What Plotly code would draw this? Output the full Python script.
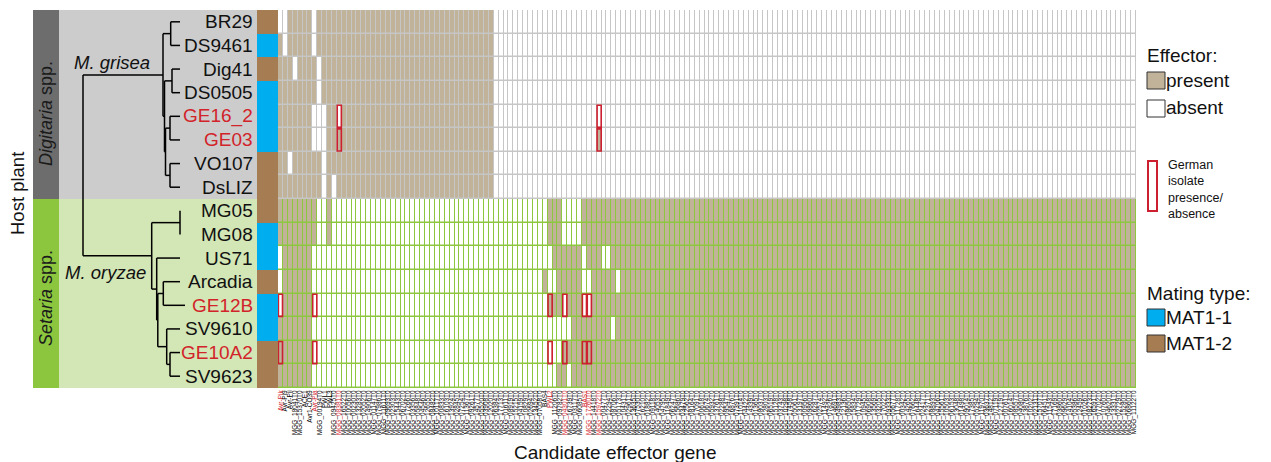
import plotly.graph_objects as go

W, H = 1271, 462


def px(x):
    return x / W


def py(y):
    return 1 - y / H


FONT = "Liberation Sans, Arial, sans-serif"
TAN = "#c0b39a"
GRID_GRAY = "#c6c6c6"
GRID_GREEN = "#8dc63f"
BLUE = "#00aeef"
BROWN = "#a67c52"
RED = "#d2232a"

# ---------------- data ----------------
isolates = ["BR29", "DS9461", "Dig41", "DS0505", "GE16_2", "GE03", "VO107", "DsLIZ",
            "MG05", "MG08", "US71", "Arcadia", "GE12B", "SV9610", "GE10A2", "SV9623"]
german_isolates = ["GE16_2", "GE03", "GE12B", "GE10A2"]
host_groups = [("Digitaria", 0, 7), ("Setaria", 8, 15)]
mating = ["MAT1-2", "MAT1-1", "MAT1-2", "MAT1-1", "MAT1-1", "MAT1-1", "MAT1-2", "MAT1-2",
          "MAT1-2", "MAT1-1", "MAT1-1", "MAT1-2", "MAT1-1", "MAT1-1", "MAT1-2", "MAT1-2"]

n_genes = 175
gene_tokens = """
Avr-Pik Avr-Pi9 Avr-Pii 18041 15370 ACE1 Avr1-CO39 Avr-Pia 00194 PWL1
PWL3 09425 08381 16522 10056 00230 13283 02052 14906 01147
07986 11611 09693 02303 15443 06702 17266 03356 05848 04546
12655 08482 10117 00833 16103 13924 02845 07254 11367 09261
14577 05520 03908 12020 06384 17713 01611 08919 15215 04159
10829 02694 13452 07058 BAS4 PWL2 11206 09782 04301 16739
03117 06085 BAS1 17260 14418 15972 00477 12294 08706 05173
10431 02961 13635 07530 16210 01882 09118 14053 04795 11849
06247 15686 03479 12562 08164 17091 00618 10674 05932 13761
02288 09547 16876 07391 11014 04422 14339 01365 08037 12803
06519 15128 03743 10298 17458 05061 13197 00956 09860 16287
02574 11492 07826 14691 04983 12136 08650 15834 01729 10945
06908 13569 03205 17022 09333 05677 11728 00342 14265 07662
16448 02417 12371 08893 04706 15561 10503 06153 13048 01498
09014 17385 05294 11970 03637 14812 07119 12719 00761 16014
08557 04080 13876 10202 02131 15707 06451 11543 17169 03860
09629 14104 05386 12459 01026 08273 16591 07702 10760 04620
13331 02729 15280 06860 11122 09181 17540 03584 12944 05745
""".split()
gene_labels = [("MGG_%sT0" % t) if t.isdigit() else t for t in gene_tokens[:n_genes]]

# present ranges (inclusive gene-column indices) per isolate
present_ranges = {
    "BR29":    [(2, 6), (8, 43)],
    "DS9461":  [(0, 0), (2, 6), (8, 43)],
    "Dig41":   [(0, 2), (4, 7), (9, 43)],
    "DS0505":  [(0, 7), (9, 43)],
    "GE16_2":  [(0, 6), (10, 11), (13, 43)],
    "GE03":    [(0, 6), (10, 43), (65, 65)],
    "VO107":   [(0, 1), (3, 8), (10, 43)],
    "DsLIZ":   [(0, 8), (10, 10), (12, 43)],
    "MG05":    [(0, 7), (10, 10), (55, 57), (62, 174)],
    "MG08":    [(0, 7), (10, 10), (55, 57), (62, 174)],
    "US71":    [(1, 6), (56, 61), (63, 65), (68, 174)],
    "Arcadia": [(1, 6), (54, 54), (57, 61), (64, 68), (70, 174)],
    "GE12B":   [(1, 6), (55, 57), (59, 61), (64, 174)],
    "SV9610":  [(0, 6), (60, 67), (69, 174)],
    "GE10A2":  [(0, 6), (58, 174)],
    "SV9623":  [(0, 6), (57, 58), (60, 174)],
}

# German isolate presence/absence highlights (gene columns)
german_boxes = {
    "GE16_2": [12, 65],
    "GE03": [12, 65],
    "GE12B": [0, 7, 55, 58, 62, 63],
    "GE10A2": [0, 7, 55, 58, 62, 63],
}

# phylogeny: (node depth, children); leaves are isolate names
tree = (83, [
    (163, [
        (170.7, ["BR29", "DS9461"]),
        (164.5, [
            (172, ["Dig41", "DS0505"]),
            (165.5, [(170, ["GE16_2", "GE03"]), (170, ["VO107", "DsLIZ"])]),
        ]),
    ]),
    (151.7, [
        (180, ["MG05", "MG08"]),
        (156.7, ["US71",
                 (157.8, [(163.3, ["Arcadia", "GE12B"]),
                          (166.7, ["SV9610", (170, ["GE10A2", "SV9623"])])])]),
    ]),
])
leaf_depth = {"GE12B": 185}
default_leaf_depth = 180
clade_labels = [("M. grisea", 112, 63), ("M. oryzae", 105, 272)]

# ---------------- build ----------------
row_of = {name: i for i, name in enumerate(isolates)}
z = []
for name in isolates:
    row = [0] * n_genes
    for a, b in present_ranges[name]:
        for c in range(a, b + 1):
            row[c] = 1
    z.append(row)

red_cols = sorted({c for cols in german_boxes.values() for c in cols})
ticktext = [("<span style='color:%s'>%s</span>" % (RED, lab)) if i in red_cols else lab
            for i, lab in enumerate(gene_labels)]

fig = go.Figure()

fig.add_trace(go.Heatmap(
    z=z, x=list(range(n_genes)), y=list(range(len(isolates))),
    colorscale=[[0, "#ffffff"], [1, TAN]], zmin=0, zmax=1, showscale=False,
    xgap=1, ygap=1.5, hoverinfo="skip", xaxis="x", yaxis="y"))

fig.add_trace(go.Heatmap(
    z=[[1 if m == "MAT1-1" else 0] for m in mating], x=[0], y=list(range(len(isolates))),
    colorscale=[[0, BROWN], [0.5, BROWN], [0.5, BLUE], [1, BLUE]], zmin=0, zmax=1,
    showscale=False, hoverinfo="skip", xaxis="x2", yaxis="y"))

# tree
tx, ty = [], []


def seg(x0, y0, x1, y1):
    tx.extend([x0, x1, None])
    ty.extend([y0, y1, None])


def walk(node, parent_x):
    if isinstance(node, str):
        y = row_of[node]
        seg(parent_x, y, leaf_depth.get(node, default_leaf_depth), y)
        return y
    x, children = node
    ys = [walk(ch, x) for ch in children]
    y = (min(ys) + max(ys)) / 2
    seg(x, min(ys), x, max(ys))
    if parent_x is not None:
        seg(parent_x, y, x, y)
    return y


walk(tree, None)
fig.add_trace(go.Scatter(x=tx, y=ty, mode="lines", line=dict(color="black", width=1.5),
                         hoverinfo="skip", showlegend=False, xaxis="x3", yaxis="y"))

shapes = []
annotations = []


def text_at(txt, x, y, size, color="#111111", xanchor="center", angle=0, align="center"):
    annotations.append(dict(xref="paper", yref="paper", x=px(x), y=py(y), xanchor=xanchor,
                            yanchor="middle", text=txt, textangle=angle, showarrow=False,
                            align=align, font=dict(family=FONT, size=size, color=color)))


# host group panels
for gname, r0, r1 in host_groups:
    band = "#6d6d6d" if gname == "Digitaria" else "#8cc63f"
    panel = "#cccccc" if gname == "Digitaria" else "#d3e6b5"
    grid = GRID_GRAY if gname == "Digitaria" else GRID_GREEN
    shapes.append(dict(type="rect", xref="paper", yref="y", x0=px(33), x1=px(59),
                       y0=r0 - 0.5, y1=r1 + 0.5, fillcolor=band, line=dict(width=0), layer="below"))
    shapes.append(dict(type="rect", xref="paper", yref="y", x0=px(59), x1=px(257),
                       y0=r0 - 0.5, y1=r1 + 0.5, fillcolor=panel, line=dict(width=0), layer="below"))
    shapes.append(dict(type="rect", xref="x", yref="y", x0=-0.5, x1=n_genes - 0.5,
                       y0=r0 - 0.5, y1=r1 + 0.5, fillcolor=grid, line=dict(width=0), layer="below"))
    text_at("<i>%s</i> spp." % gname, 46, 114 if gname == "Digitaria" else 298, 18,
            color="#1a1a1a", angle=-90)

# German highlight boxes
for name, cols in german_boxes.items():
    r = row_of[name]
    for c in cols:
        shapes.append(dict(type="rect", xref="x", yref="y", x0=c - 0.42, x1=c + 0.42,
                           y0=r - 0.47, y1=r + 0.47, line=dict(color="#cc2030", width=1.6),
                           fillcolor="rgba(0,0,0,0)", layer="above"))

# row labels
for i, name in enumerate(isolates):
    annotations.append(dict(xref="paper", yref="y", x=px(255), y=i, xanchor="right",
                            yanchor="middle", text=name, showarrow=False,
                            font=dict(family=FONT, size=19,
                                      color=RED if name in german_isolates else "#111111")))

for txt, cx, cy in clade_labels:
    text_at("<i>%s</i>" % txt, cx, cy, 18.5)

text_at("Host plant", 17, 194, 18.5, angle=-90)
text_at("Candidate effector gene", 615, 452, 19)

# legend
def legend_square(y_top, fill):
    shapes.append(dict(type="rect", xref="paper", yref="paper", x0=px(1147), x1=px(1165),
                       y0=py(y_top + 17), y1=py(y_top), fillcolor=fill,
                       line=dict(color="#333333", width=1)))


text_at("Effector:", 1145, 55, 19, xanchor="left")
legend_square(72, TAN)
text_at("present", 1164, 80, 19, xanchor="left")
legend_square(100, "#ffffff")
text_at("absent", 1164, 108, 19, xanchor="left")
shapes.append(dict(type="rect", xref="paper", yref="paper", x0=px(1148), x1=px(1157),
                   y0=py(211), y1=py(161), line=dict(color="#cc2030", width=2)))
text_at("German<br>isolate<br>presence/<br>absence", 1166, 189, 12.5, xanchor="left", align="left")
text_at("Mating type:", 1145, 293, 19, xanchor="left")
legend_square(309, BLUE)
text_at("MAT1-1", 1164, 317, 19, xanchor="left")
legend_square(335, BROWN)
text_at("MAT1-2", 1164, 343, 19, xanchor="left")

fig.update_layout(
    width=W, height=H, margin=dict(l=0, r=0, t=0, b=0),
    paper_bgcolor="white", plot_bgcolor="rgba(0,0,0,0)", showlegend=False,
    shapes=shapes, annotations=annotations,
    xaxis=dict(domain=[px(278), px(1136)], range=[-0.5, n_genes - 0.5], anchor="y",
               tickmode="array", tickvals=list(range(n_genes)), ticktext=ticktext,
               tickangle=-90, tickfont=dict(family=FONT, size=6.5, color="#000000"),
               ticks="", showgrid=False, zeroline=False, showline=False, automargin=False),
    yaxis=dict(domain=[py(388), py(10)], range=[len(isolates) - 0.5, -0.5], anchor="x",
               visible=False),
    xaxis2=dict(domain=[px(257), px(278)], range=[-0.5, 0.5], anchor="y", visible=False),
    xaxis3=dict(domain=[0, 1], range=[0, W], anchor="y", visible=False),
)

fig.write_html("out.html", config={"displayModeBar": False},
               post_script="document.body.style.margin='0';")
